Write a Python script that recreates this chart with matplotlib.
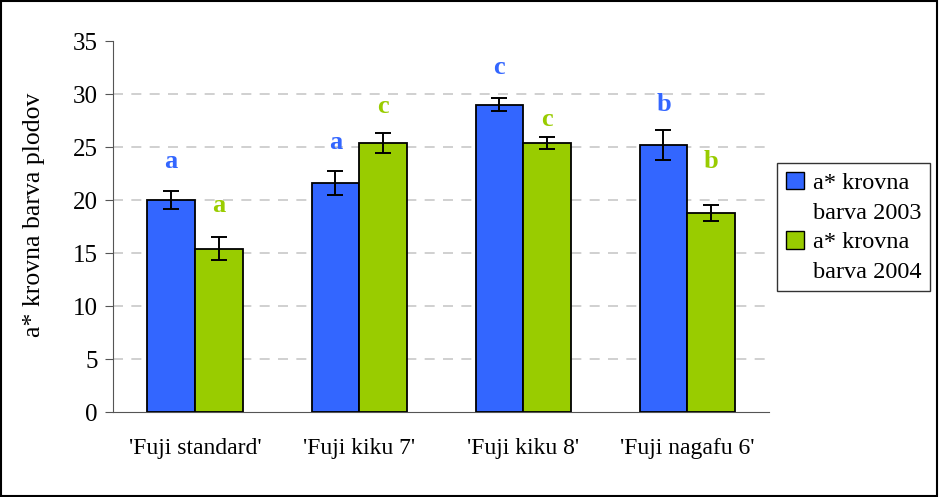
import matplotlib.pyplot as plt
from matplotlib.patches import Patch
import numpy as np

plt.rcParams['font.family'] = ['Liberation Serif', 'DejaVu Serif']

cultivars = ["'Fuji standard'", "'Fuji kiku 7'", "'Fuji kiku 8'", "'Fuji nagafu 6'"]
vals_2003 = [20.0, 21.6, 29.0, 25.2]
err_2003 = [0.85, 1.1, 0.65, 1.4]
vals_2004 = [15.4, 25.4, 25.4, 18.8]
err_2004 = [1.1, 0.95, 0.55, 0.75]
letters_2003 = ['a', 'a', 'c', 'b']
letters_2004 = ['a', 'c', 'c', 'b']
letter_y_2003 = [23.6, 25.4, 32.5, 29.0]
letter_y_2004 = [19.5, 28.8, 27.6, 23.6]

blue = '#3366ff'
green = '#99cc00'

fig = plt.figure(figsize=(9.39, 4.97), dpi=100)
ax = fig.add_axes([0.1203, 0.171, 0.699, 0.7465])

x = np.arange(len(cultivars))
w = 0.29
ekw = dict(ecolor='black', elinewidth=1.4, capsize=6, capthick=1.4)
ax.bar(x - w / 2, vals_2003, w, color=blue, edgecolor='black', linewidth=1.3,
       yerr=err_2003, error_kw=ekw, zorder=3)
ax.bar(x + w / 2, vals_2004, w, color=green, edgecolor='black', linewidth=1.3,
       yerr=err_2004, error_kw=ekw, zorder=3)

for i in range(len(cultivars)):
    ax.text(x[i] - w / 2, letter_y_2003[i], letters_2003[i], color=blue, fontsize=19,
            fontweight='bold', ha='center', va='center')
    ax.text(x[i] + w / 2, letter_y_2004[i], letters_2004[i], color=green, fontsize=19,
            fontweight='bold', ha='center', va='center')

ax.set_xlim(-0.5, len(cultivars) - 0.5)
ax.set_ylim(0, 35)
ax.set_yticks(range(0, 36, 5))
ax.set_xticks(x)
ax.set_xticklabels(cultivars, fontsize=17)
ax.tick_params(axis='y', labelsize=18, length=6, color='#555555', pad=5)
ax.tick_params(axis='x', length=0, pad=19)
ax.set_ylabel('a* krovna barva plodov', fontsize=18.5)
ax.yaxis.set_label_coords(-0.103, 0.531)

for yv in range(5, 35, 5):
    ax.axhline(yv, color='#c8c8c8', linestyle=(0, (6, 5)), linewidth=1.2, zorder=1)

for s in ['top', 'right']:
    ax.spines[s].set_visible(False)
ax.spines['left'].set_color('#555555')
ax.spines['bottom'].set_color('#555555')

# legend with each wrapped label split over two rows
handles = [Patch(facecolor=blue, edgecolor='black'), Patch(visible=False),
           Patch(facecolor=green, edgecolor='black'), Patch(visible=False)]
labels = ['a* krovna', 'barva 2003', 'a* krovna', 'barva 2004']
leg = fig.legend(handles, labels, loc='upper left', bbox_to_anchor=(0.8275, 0.672),
                 fontsize=17.5, frameon=True, fancybox=False, edgecolor='black',
                 handlelength=0.75, handleheight=0.75, handletextpad=0.4,
                 labelspacing=0.3, borderpad=0.35, borderaxespad=0)
leg.get_frame().set_linewidth(1.0)

fig.patches.append(plt.Rectangle((0.001, 0.002), 0.997, 0.996, transform=fig.transFigure,
                                 fill=False, edgecolor='black', linewidth=1.5))

fig.savefig('out.png', dpi=100)
